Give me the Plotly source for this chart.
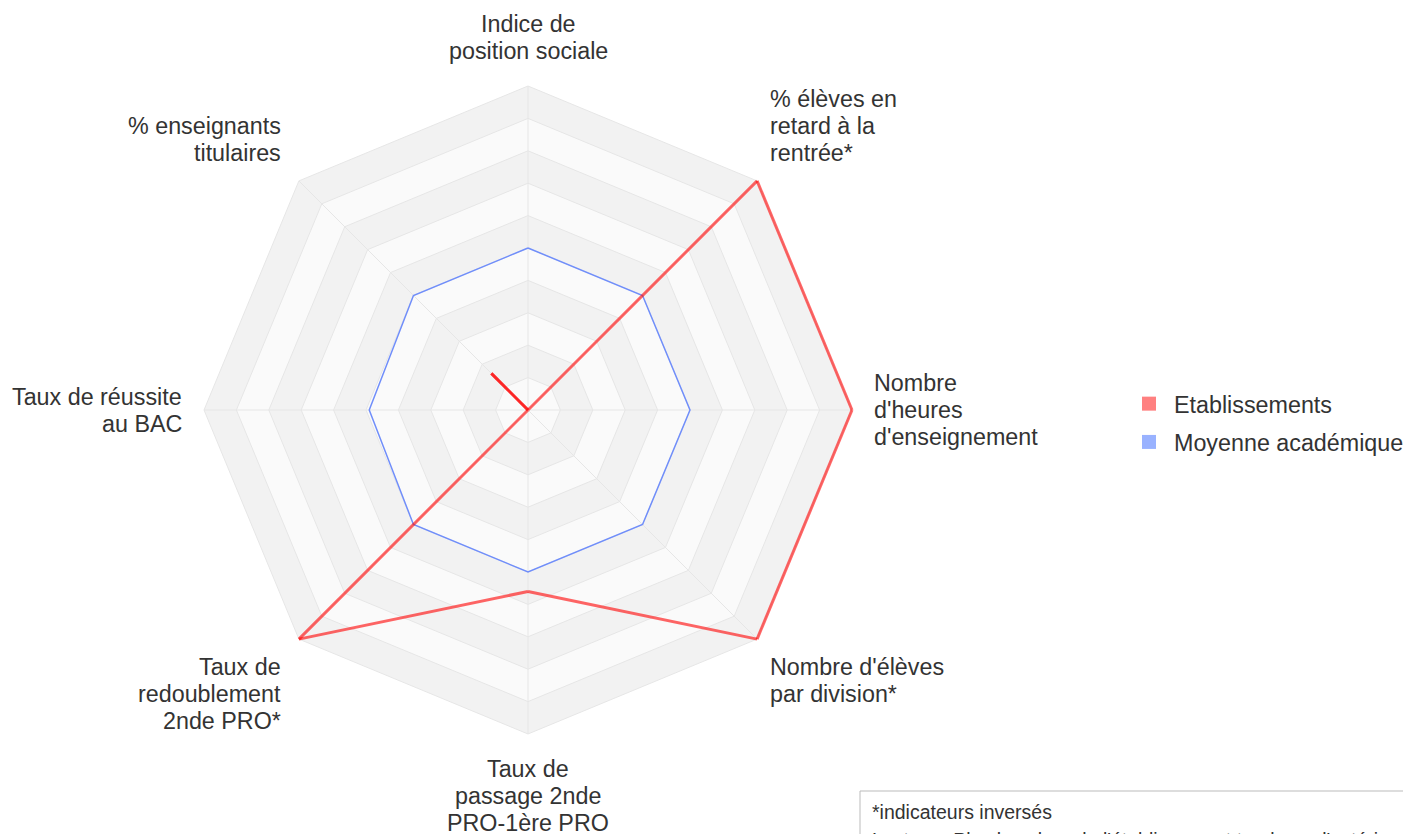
import math
import plotly.graph_objects as go

categories = [
    "Indice de<br>position sociale",
    "% élèves en<br>retard à la<br>rentrée*",
    "Nombre<br>d'heures<br>d'enseignement",
    "Nombre d'élèves<br>par division*",
    "Taux de<br>passage 2nde<br>PRO-1ère PRO",
    "Taux de<br>redoublement<br>2nde PRO*",
    "Taux de réussite<br>au BAC",
    "% enseignants<br>titulaires",
]
etablissements = [0.0, 1.0, 1.0, 1.0, 0.56, 1.0, 0.0, 0.16]
moyenne_academique = [0.5, 0.5, 0.5, 0.5, 0.5, 0.5, 0.49, 0.5]
series_names = ["Etablissements", "Moyenne académique"]
ring_levels = [1.0, 0.9, 0.8, 0.7, 0.6, 0.5, 0.4, 0.3, 0.2, 0.1]
note_lines = ["*indicateurs inversés",
              "Lecture : Plus la valeur de l'établissement tend vers l'extérieur du graphique, plus l'indicateur est favorable"]

FONT = "Liberation Sans, Arial, sans-serif"
TXT = "#333333"
W, H = 1411, 834
OFF = 8  # page body margin
cx, cy, R = 528 - OFF, 410 - OFF, 324
RMAX = 1.02            # a little headroom so the outer lines are not clipped
RF = R * RMAX

fig = go.Figure()
closed_theta = categories + [categories[0]]

# background bands
for i, lv in enumerate(ring_levels):
    fig.add_trace(go.Scatterpolar(
        r=[lv] * (len(categories) + 1), theta=closed_theta, mode="lines",
        fill="toself", fillcolor="#f2f2f2" if i % 2 == 0 else "#fafafa",
        line=dict(color="#e6e6e6", width=1), hoverinfo="skip", showlegend=False))
# spokes
for c in categories:
    fig.add_trace(go.Scatterpolar(
        r=[0, ring_levels[0]], theta=[c, c], mode="lines",
        line=dict(color="#e6e6e6", width=1), hoverinfo="skip", showlegend=False))

# moyenne académique
fig.add_trace(go.Scatterpolar(
    r=moyenne_academique + [moyenne_academique[0]], theta=closed_theta, mode="lines",
    line=dict(color="rgb(112,142,250)", width=1.5), showlegend=False, name=series_names[1]))

# établissements, segment by segment (semi-transparent, overlaps darken)
n = len(categories)
for i in range(n):
    j = (i + 1) % n
    fig.add_trace(go.Scatterpolar(
        r=[etablissements[i], etablissements[j]], theta=[categories[i], categories[j]],
        mode="lines", line=dict(color="rgba(255,0,0,0.6)", width=3),
        showlegend=False, name=series_names[0]))

# legend entries
for k, (name, col) in enumerate(zip(series_names, ["rgb(255,128,128)", "rgb(153,178,255)"])):
    fig.add_trace(go.Scatterpolar(
        r=[None], theta=[categories[0]], mode="markers", name=name, legendgroup=f"g{k}",
        marker=dict(symbol="square", size=14, color=col), showlegend=True))

# category labels placed around the octagon
annotations = []
HALF, LS = 12, 27
for k, lab in enumerate(categories):
    ang = math.radians(90 - 45 * k)
    ux, uy = math.cos(ang), -math.sin(ang)
    vx, vy = cx + R * ux, cy + R * uy
    diag = abs(ux) > 0.1 and abs(uy) > 0.1
    if diag:
        ax = vx + (10.5 if ux > 0 else -15.5)
        ay = vy + 15.5 * (1 if uy > 0 else -1)
    else:
        ax = vx + 20 * ux
        ay = vy + 23 * uy
    xa = "left" if ux > 0.1 else ("right" if ux < -0.1 else "center")
    lines = lab.split("<br>")
    m = len(lines)
    for i, ln in enumerate(lines):
        if uy < -0.1:
            y = ay - HALF - (m - 1 - i) * LS
        elif uy > 0.1:
            y = ay + HALF + i * LS
        else:
            y = ay + (i - (m - 1) / 2) * LS
        annotations.append(dict(xref="paper", yref="paper", x=ax / W, y=1 - y / H,
                                xanchor=xa, yanchor="middle", showarrow=False, text=ln,
                                font=dict(family=FONT, size=23.3, color=TXT)))

for i, ln in enumerate(note_lines):
    annotations.append(dict(xref="paper", yref="paper", x=(870 - OFF) / W,
                            y=1 - (812 + 27.5 * i - OFF) / H,
                            xanchor="left", yanchor="middle", align="left", showarrow=False,
                            text=ln, font=dict(family=FONT, size=19.5, color=TXT)))

fig.update_layout(
    width=W, height=H,
    margin=dict(l=0, r=0, t=0, b=0),
    paper_bgcolor="white",
    font=dict(family=FONT, size=23.3, color=TXT),
    polar=dict(
        domain=dict(x=[(cx - RF) / W, (cx + RF) / W], y=[(H - cy - RF) / H, (H - cy + RF) / H]),
        bgcolor="white",
        gridshape="linear",
        radialaxis=dict(visible=False, range=[0, RMAX]),
        angularaxis=dict(rotation=90, direction="clockwise", showgrid=False, showline=False,
                         showticklabels=False, ticks=""),
    ),
    legend=dict(x=(1124 - OFF) / W, y=1 - (423 - OFF) / H, xanchor="left", yanchor="middle",
                traceorder="grouped", tracegroupgap=5, itemwidth=40,
                font=dict(family=FONT, size=23.3, color=TXT), bgcolor="rgba(0,0,0,0)"),
    shapes=[dict(type="rect", xref="paper", yref="paper",
                 x0=(860 - OFF) / W, x1=1.2, y0=-0.2, y1=1 - (791 - OFF) / H,
                 line=dict(color="#bbbbbb", width=1), fillcolor="white")],
    annotations=annotations,
)

fig.write_html("out.html")
